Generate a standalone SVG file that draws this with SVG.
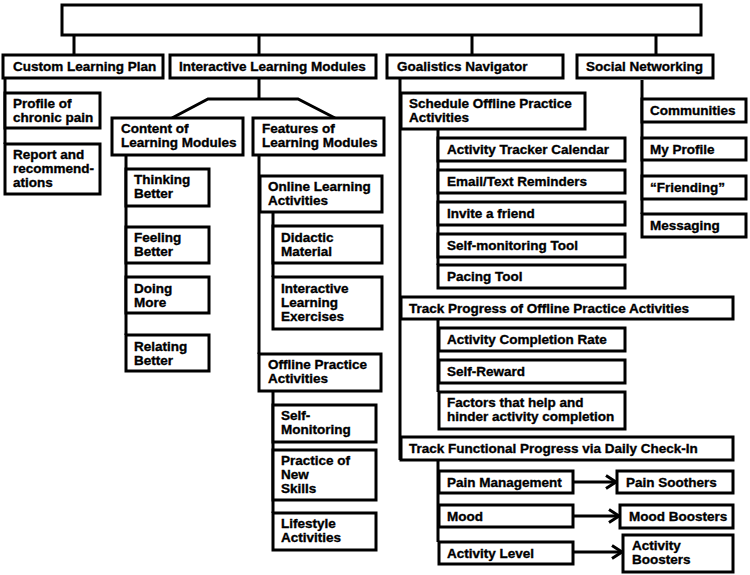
<svg xmlns="http://www.w3.org/2000/svg" width="750" height="575" viewBox="0 0 750 575">
<defs>
<style>
.b{fill:#fff;stroke:#000;stroke-width:3}
.l{fill:none;stroke:#000;stroke-width:3}
text{font-family:"Liberation Sans",Arial,sans-serif;font-weight:bold;font-size:13.5px;fill:#000;stroke:#000;stroke-width:0.35}
</style>
<marker id="ah" markerUnits="userSpaceOnUse" markerWidth="14" markerHeight="16" refX="11" refY="8" orient="auto">
<path d="M1,1.5 L11,8 L1,14.5" fill="none" stroke="#000" stroke-width="3"/>
</marker>
</defs>
<rect width="750" height="575" fill="#fff"/>
<g id="connectors">
<path class="l" d="M74,35V55M259,35V55M472,35V55M656,35V55"/>
<path class="l" d="M5,78V144"/>
<path class="l" d="M259,78V99M172,118L208,99H298L335,118"/>
<path class="l" d="M126,155V335"/>
<path class="l" d="M259,155V354M273,212V277M273,391V513"/>
<path class="l" d="M400,78V460M438,129V265M438,319V392M438,460V542"/>
<path class="l" d="M642,80V214"/>
<path class="l" d="M573,482H616" marker-end="url(#ah)"/>
<path class="l" d="M573,516H619" marker-end="url(#ah)"/>
<path class="l" d="M573,552H622" marker-end="url(#ah)"/>
</g>
<g id="root"><rect class="b" x="62" y="5" width="639" height="30"/></g>
<g id="clp"><rect class="b" x="3" y="55" width="160" height="23"/><text x="13" y="71">Custom Learning Plan</text></g>
<g id="ilm"><rect class="b" x="170" y="55" width="206" height="23"/><text x="179" y="71">Interactive Learning Modules</text></g>
<g id="gn"><rect class="b" x="387" y="55" width="176" height="23"/><text x="397" y="71">Goalistics Navigator</text></g>
<g id="sn"><rect class="b" x="577" y="55" width="136" height="23"/><text x="586" y="71">Social Networking</text></g>
<g id="profile"><rect class="b" x="5" y="93" width="95" height="35"/><text x="13" y="108">Profile of</text><text x="13" y="122">chronic pain</text></g>
<g id="report"><rect class="b" x="5" y="144" width="95" height="50"/><text x="13" y="159">Report and</text><text x="13" y="173">recommend-</text><text x="13" y="187">ations</text></g>
<g id="content"><rect class="b" x="112" y="118" width="131" height="37"/><text x="121" y="133">Content of</text><text x="121" y="147">Learning Modules</text></g>
<g id="features"><rect class="b" x="253" y="118" width="131" height="37"/><text x="262" y="133">Features of</text><text x="262" y="147">Learning Modules</text></g>
<g id="thinking"><rect class="b" x="126" y="169" width="83" height="37"/><text x="134" y="184">Thinking</text><text x="134" y="198">Better</text></g>
<g id="feeling"><rect class="b" x="126" y="227" width="83" height="36"/><text x="134" y="242">Feeling</text><text x="134" y="256">Better</text></g>
<g id="doing"><rect class="b" x="126" y="277" width="83" height="36"/><text x="134" y="293">Doing</text><text x="134" y="307">More</text></g>
<g id="relating"><rect class="b" x="126" y="335" width="83" height="36"/><text x="134" y="351">Relating</text><text x="134" y="365">Better</text></g>
<g id="online"><rect class="b" x="260" y="176" width="122" height="36"/><text x="268" y="191">Online Learning</text><text x="268" y="205">Activities</text></g>
<g id="didactic"><rect class="b" x="273" y="226" width="109" height="37"/><text x="281" y="242">Didactic</text><text x="281" y="256">Material</text></g>
<g id="ile"><rect class="b" x="273" y="277" width="109" height="52"/><text x="281" y="293">Interactive</text><text x="281" y="307">Learning</text><text x="281" y="321">Exercises</text></g>
<g id="offline"><rect class="b" x="259" y="354" width="122" height="37"/><text x="268" y="369">Offline Practice</text><text x="268" y="383">Activities</text></g>
<g id="selfmon"><rect class="b" x="273" y="405" width="103" height="37"/><text x="281" y="420">Self-</text><text x="281" y="434">Monitoring</text></g>
<g id="practice"><rect class="b" x="273" y="450" width="103" height="50"/><text x="281" y="465">Practice of</text><text x="281" y="479">New</text><text x="281" y="493">Skills</text></g>
<g id="lifestyle"><rect class="b" x="273" y="513" width="103" height="37"/><text x="281" y="528">Lifestyle</text><text x="281" y="542">Activities</text></g>
<g id="schedule"><rect class="b" x="401" y="93" width="184" height="36"/><text x="409" y="108">Schedule Offline Practice</text><text x="409" y="122">Activities</text></g>
<g id="tracker"><rect class="b" x="438" y="138" width="187" height="23"/><text x="447" y="154">Activity Tracker Calendar</text></g>
<g id="email"><rect class="b" x="438" y="170" width="187" height="23"/><text x="447" y="186">Email/Text Reminders</text></g>
<g id="invite"><rect class="b" x="438" y="202" width="187" height="23"/><text x="447" y="218">Invite a friend</text></g>
<g id="selftool"><rect class="b" x="438" y="234" width="187" height="23"/><text x="447" y="250">Self-monitoring Tool</text></g>
<g id="pacing"><rect class="b" x="438" y="265" width="187" height="23"/><text x="447" y="281">Pacing Tool</text></g>
<g id="trackprog"><rect class="b" x="401" y="297" width="332" height="22"/><text x="409" y="313">Track Progress of Offline Practice Activities</text></g>
<g id="completion"><rect class="b" x="439" y="328" width="186" height="23"/><text x="447" y="344">Activity Completion Rate</text></g>
<g id="reward"><rect class="b" x="439" y="360" width="186" height="23"/><text x="447" y="376">Self-Reward</text></g>
<g id="factors"><rect class="b" x="439" y="392" width="186" height="37"/><text x="447" y="407">Factors that help and</text><text x="447" y="421">hinder activity completion</text></g>
<g id="trackfunc"><rect class="b" x="401" y="437" width="332" height="23"/><text x="409" y="453">Track Functional Progress via Daily Check-In</text></g>
<g id="pain"><rect class="b" x="439" y="471" width="134" height="22"/><text x="447" y="487">Pain Management</text></g>
<g id="mood"><rect class="b" x="439" y="505" width="134" height="22"/><text x="447" y="521">Mood</text></g>
<g id="activity"><rect class="b" x="439" y="542" width="134" height="22"/><text x="447" y="558">Activity Level</text></g>
<g id="soothers"><rect class="b" x="617" y="471" width="116" height="22"/><text x="626" y="487">Pain Soothers</text></g>
<g id="moodb"><rect class="b" x="620" y="505" width="113" height="23"/><text x="629" y="521">Mood Boosters</text></g>
<g id="activityb"><rect class="b" x="623" y="535" width="110" height="37"/><text x="632" y="550">Activity</text><text x="632" y="564">Boosters</text></g>
<g id="communities"><rect class="b" x="642" y="99" width="104" height="23"/><text x="650" y="115">Communities</text></g>
<g id="myprofile"><rect class="b" x="642" y="138" width="104" height="22"/><text x="650" y="154">My Profile</text></g>
<g id="friending"><rect class="b" x="642" y="176" width="104" height="23"/><text x="650" y="192">“Friending”</text></g>
<g id="messaging"><rect class="b" x="642" y="214" width="104" height="23"/><text x="650" y="230">Messaging</text></g>
</svg>
